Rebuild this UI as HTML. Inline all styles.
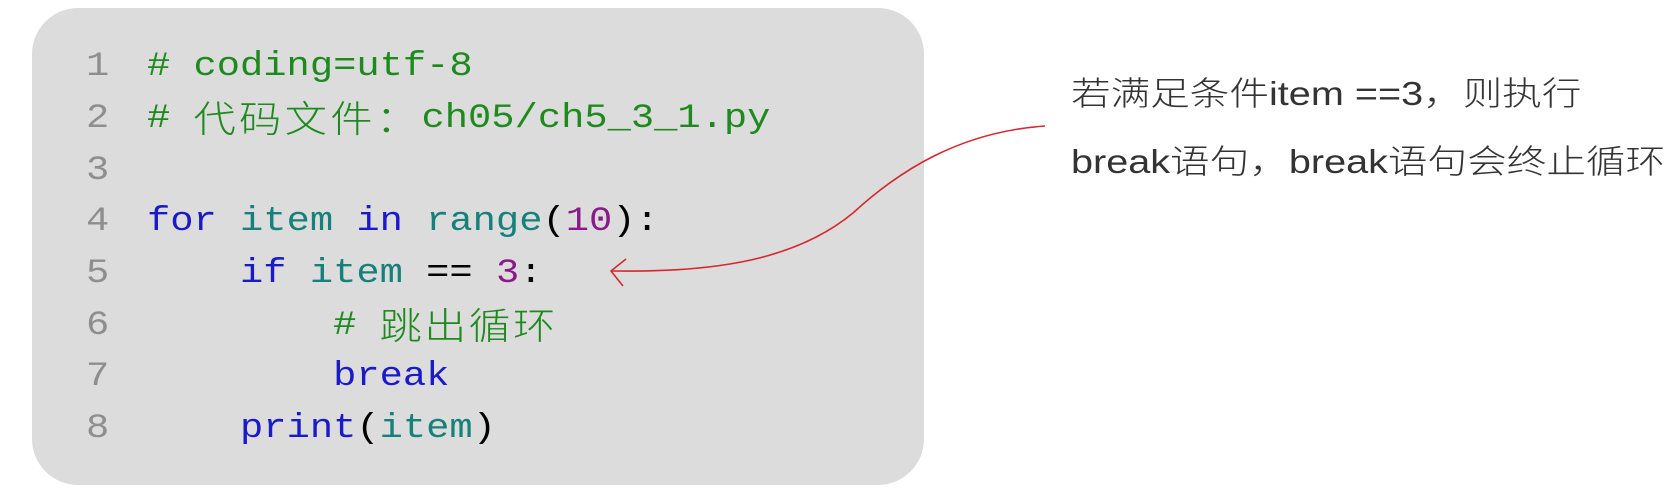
<!DOCTYPE html>
<html><head><meta charset="utf-8"><style>
body{margin:0;width:1675px;height:498px;background:#fff;position:relative;overflow:hidden}
.box{position:absolute;left:32px;top:8px;width:892px;height:477px;background:#dcdcdc;border-radius:46px}
.ln,.cd{position:absolute;font-family:"Liberation Mono","Noto Sans CJK SC",monospace;font-size:34px;line-height:34px;height:34px;white-space:pre;transform-origin:0 0;transform:scaleX(1.14)}
.ln{color:#8e8e8e;left:86px}
.cd{left:147px}
.c{color:#1e8a1e}.k{color:#1a1ac8}.i{color:#16807a}.n{color:#8a1a8a}.p{color:#000}
.cj{display:inline-block;vertical-align:top;height:34px;overflow:visible;font-family:"Noto Sans CJK SC",sans-serif;font-weight:300;font-size:37px;line-height:34px;position:relative;top:-3px}
.t{position:absolute;left:1071px;font-family:"Liberation Sans","Noto Sans CJK SC",sans-serif;font-weight:300;font-size:33px;line-height:33px;color:#333;white-space:pre;transform-origin:0 0;transform:scaleX(1.2)}
</style></head><body>
<div class="box"></div>
<div class="ln" style="top:50px">1</div>
<div class="ln" style="top:102px">2</div>
<div class="ln" style="top:154px">3</div>
<div class="ln" style="top:205px">4</div>
<div class="ln" style="top:257px">5</div>
<div class="ln" style="top:309px">6</div>
<div class="ln" style="top:360px">7</div>
<div class="ln" style="top:412px">8</div>
<div class="cd c" style="top:50px"># coding=utf-8</div>
<div class="cd c" style="top:102px"># <span class="cj" style="letter-spacing:3px">代码文件：</span>ch05/ch5_3_1.py</div>
<div class="cd" style="top:205px"><span class="k">for</span> <span class="i">item</span> <span class="k">in</span> <span class="i">range</span><span class="p">(</span><span class="n">10</span><span class="p">):</span></div>
<div class="cd" style="top:257px">    <span class="k">if</span> <span class="i">item</span> <span class="p">==</span> <span class="n">3</span><span class="p">:</span></div>
<div class="cd c" style="top:309px">        # <span class="cj" style="letter-spacing:2px">跳出循环</span></div>
<div class="cd k" style="top:360px">        break</div>
<div class="cd" style="top:412px">    <span class="k">print</span><span class="p">(</span><span class="i">item</span><span class="p">)</span></div>
<svg width="1675" height="498" style="position:absolute;left:0;top:0">
<path d="M1045,126 C960,132 900,170 853,213 C790,265 700,272 611,271" fill="none" stroke="#d6282e" stroke-width="1.6"/>
<path d="M626,259 L611,271 L623,286" fill="none" stroke="#d6282e" stroke-width="1.6"/>
</svg>
<div class="t" style="top:77px">若满足条件item ==3，则执行</div>
<div class="t" style="top:145px">break语句，break语句会终止循环</div>
</body></html>
